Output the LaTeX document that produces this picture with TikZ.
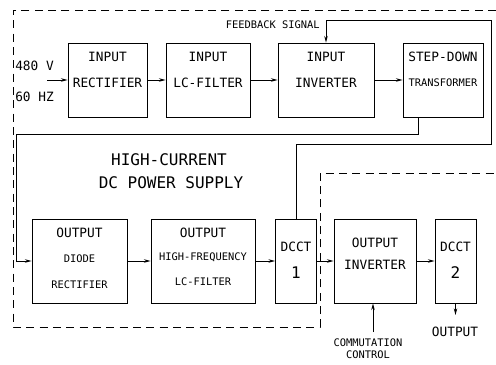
\documentclass[tikz,border=0pt]{standalone}
\usepackage{fontspec}
\setmainfont{DejaVu Sans Mono}
\usetikzlibrary{arrows.meta,calc}
\tikzset{
  blk/.style={draw,line width=0.6pt,inner sep=0pt,minimum height=55.5pt},
  lbl/.style={inner sep=0pt,font=\fontsize{9.6}{10}\selectfont},
  sml/.style={inner sep=0pt,font=\fontsize{7.8}{9}\selectfont},
  big/.style={inner sep=0pt,font=\fontsize{12}{14}\selectfont},
  conn/.style={line width=0.6pt,-{Stealth[length=5pt,width=2.6pt]}},
  bound/.style={line width=0.6pt,dash pattern=on 6pt off 4pt}
}
\begin{document}
\begin{tikzpicture}[x=0.75pt,y=-0.75pt]
\useasboundingbox (0,0) rectangle (496,364);
% supply outline
\draw[bound] (496,10) -- (13,10) -- (13,327) -- (320,327) -- (320,173) -- (496,173);
% input stage
\node[blk,minimum width=59.25pt] (irect) at (107.5,80) {};
\node[blk,minimum width=63pt] (ilc) at (208,80) {};
\node[blk,minimum width=72pt] (iinv) at (326,80) {};
\node[blk,minimum width=60pt] (sdt) at (443,80) {};
\node[lbl] (irect-a) at (107.5,57) {INPUT};
\node[lbl] (irect-b) at (107.5,83) {RECTIFIER};
\node[lbl] (ilc-a) at (208,57) {INPUT};
\node[lbl] (ilc-b) at (208,83) {LC-FILTER};
\node[lbl] (iinv-a) at (326,57) {INPUT};
\node[lbl] (iinv-b) at (326,83) {INVERTER};
\node[lbl] (sdt-a) at (443,57) {STEP-DOWN};
\node[sml] (sdt-b) at (443,83) {TRANSFORMER};
\node[lbl,anchor=west] (volt) at (15,66) {480 V};
\node[lbl,anchor=west] (freq) at (15,97) {60 HZ};
\node[sml,anchor=east] (fbtxt) at (320,25) {FEEDBACK SIGNAL};
\node[big] (title-a) at (169,160) {HIGH-CURRENT};
\node[big] (title-b) at (171,183) {DC POWER SUPPLY};
% output stage
\node[blk,minimum width=71.25pt,minimum height=63pt] (odr) at (79.5,261) {};
\node[blk,minimum width=78pt,minimum height=63pt] (ohf) at (203,261) {};
\node[blk,minimum width=30.75pt,minimum height=63pt] (dcct1) at (296,261) {};
\node[blk,minimum width=61.5pt,minimum height=63pt] (oinv) at (375,261) {};
\node[blk,minimum width=30.75pt,minimum height=63pt] (dcct2) at (455.5,261) {};
\node[lbl] (odr-a) at (79.5,233) {OUTPUT};
\node[sml] (odr-b) at (79.5,259) {DIODE};
\node[sml] (odr-c) at (79.5,285) {RECTIFIER};
\node[lbl] (ohf-a) at (203,233) {OUTPUT};
\node[sml] (ohf-b) at (203,257) {HIGH-FREQUENCY};
\node[sml] (ohf-c) at (203,282) {LC-FILTER};
\node[lbl] (dcct1-a) at (296,247) {DCCT};
\node[big] (dcct1-b) at (296,273) {1};
\node[lbl] (oinv-a) at (375,243) {OUTPUT};
\node[lbl] (oinv-b) at (375,265) {INVERTER};
\node[lbl] (dcct2-a) at (455.5,247) {DCCT};
\node[big] (dcct2-b) at (455.5,273) {2};
\node[lbl] (outtxt) at (455,332) {OUTPUT};
\node[sml,align=center] (cctxt) at (368,349) {COMMUTATION\\CONTROL};
% free ends and bends
\coordinate (mains) at (47,80);
\coordinate (tap) at ($(sdt.south west)!0.2!(sdt.south east)$);
\coordinate (bus) at (16,134);
\coordinate (fbA) at (491,144);
\coordinate (fbB) at (491,20);
\coordinate (cc) at (373,332);
\coordinate (out) at (455.5,315);
% connectors
\draw[conn] (mains) -- (irect.west);
\draw[conn] (irect.east) -- (ilc.west);
\draw[conn] (ilc.east) -- (iinv.west);
\draw[conn] (iinv.east) -- (sdt.west);
\draw[conn] (tap) |- (bus) |- (odr.west);
\draw[conn] (odr.east) -- (ohf.west);
\draw[conn] (ohf.east) -- (dcct1.west);
\draw[conn] (dcct1.east) -- (oinv.west);
\draw[conn] (oinv.east) -- (dcct2.west);
\draw[conn] (dcct1.north) |- (fbA) -- (fbB) -| (iinv.north);
\draw[conn] (cc) -- (cc |- oinv.south);
\draw[conn] (dcct2.south) -- (out);
\end{tikzpicture}
\end{document}
